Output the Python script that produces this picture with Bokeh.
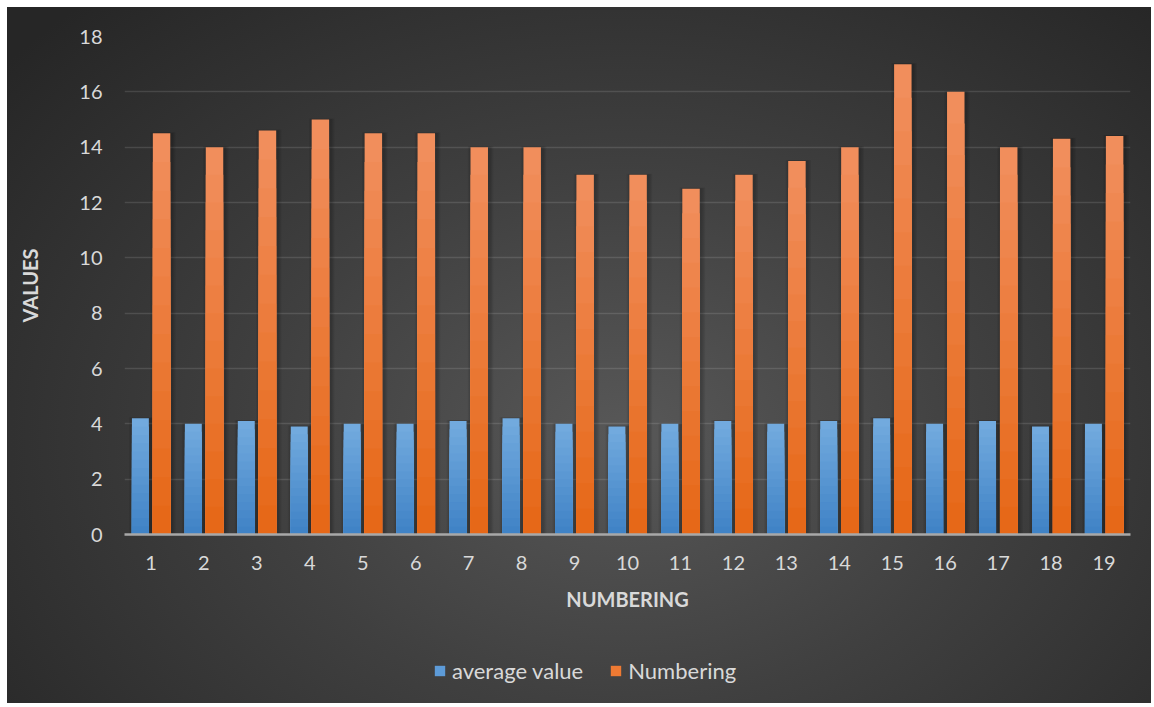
from bokeh.plotting import figure
from bokeh.layouts import column
from bokeh.models import Legend, LegendItem, FixedTicker, ColumnDataSource
from bokeh.embed import file_html
from bokeh.resources import INLINE

# Data
numbering_labels = [str(i) for i in range(1, 20)]
average_value = [4.2, 4.0, 4.1, 3.9, 4.0, 4.0, 4.1, 4.2, 4.0, 3.9,
                 4.0, 4.1, 4.0, 4.1, 4.2, 4.0, 4.1, 3.9, 4.0]
numbering_values = [14.5, 14.0, 14.6, 15.0, 14.5, 14.5, 14.0, 14.0, 13.0, 13.0,
                    12.5, 13.0, 13.5, 14.0, 17.0, 16.0, 14.0, 14.3, 14.4]
y_ticks = [0, 2, 4, 6, 8, 10, 12, 14, 16, 18]
series_names = ["average value", "Numbering"]

FONT = "Lato"
TEXT = "#d9d9d9"
BLUE_TOP, BLUE_BOT = "#72aade", "#4083c6"
ORANGE_TOP, ORANGE_BOT = "#f18e5c", "#e66818"

p = figure(width=1144, height=625, output_backend="svg", toolbar_location=None,
           x_range=(0.5, 19.5), y_range=(0, 18),
           min_border_left=117, min_border_right=21,
           min_border_top=29, min_border_bottom=98)
p.border_fill_color = None
p.background_fill_color = None
p.outline_line_color = None

xs = list(range(1, 20))


def lerp(c1, c2, t):
    a = [int(c1[i:i + 2], 16) for i in (1, 3, 5)]
    b = [int(c2[i:i + 2], 16) for i in (1, 3, 5)]
    return "#%02x%02x%02x" % tuple(round(a[k] + (b[k] - a[k]) * t) for k in range(3))


def gradient_bars(offset, values, top_col, bot_col, width, steps=14):
    """Vertical gradient bars: stacked layers, each shorter and darker."""
    for j in range(steps):
        frac = (steps - j) / steps
        src = ColumnDataSource(dict(x=[x + offset for x in xs],
                                    top=[v * frac for v in values]))
        p.vbar(x="x", top="top", width=width, source=src,
               fill_color=lerp(top_col, bot_col, j / (steps - 1)), line_color=None)


# soft shadows behind the bars
for off, vals in ((-0.2, average_value), (0.2, numbering_values)):
    for k in (0.16, 0.11, 0.06):
        p.vbar(x=[x + off + 0.025 for x in xs], top=[v + k * 0.25 for v in vals],
               width=0.32 + k, fill_color="black", fill_alpha=0.07, line_color=None)

gradient_bars(-0.2, average_value, BLUE_TOP, BLUE_BOT, 0.32)
gradient_bars(0.2, numbering_values, ORANGE_TOP, ORANGE_BOT, 0.33)

# axes
p.xaxis.ticker = FixedTicker(ticks=xs)
p.xaxis.major_label_overrides = {i: numbering_labels[i - 1] for i in xs}
p.yaxis.ticker = FixedTicker(ticks=y_ticks)
for ax in (p.xaxis, p.yaxis):
    ax.major_tick_line_color = None
    ax.minor_tick_line_color = None
    ax.major_tick_out = 0
    ax.major_tick_in = 0
    ax.major_label_text_font = FONT
    ax.major_label_text_font_size = "20px"
    ax.major_label_text_color = TEXT
    ax.axis_label_text_font = FONT
    ax.axis_label_text_font_size = "20px"
    ax.axis_label_text_font_style = "bold"
    ax.axis_label_text_color = TEXT
p.yaxis.axis_line_color = None
p.xaxis.axis_line_color = "#a8a8a8"
p.xaxis.axis_line_width = 2.5
p.xaxis.major_label_standoff = 21
p.yaxis.major_label_standoff = 22
p.xaxis.axis_label = "NUMBERING"
p.yaxis.axis_label = "VALUES"
p.xaxis.axis_label_standoff = 14
p.yaxis.axis_label_standoff = 34

p.xgrid.grid_line_color = None
p.ygrid.grid_line_color = "#ffffff"
p.ygrid.grid_line_alpha = 0.12
p.ygrid.grid_line_width = 1.5

# legend strip below the chart; its swatch renderers sit outside the visible range
leg = figure(width=1144, height=71, output_backend="svg", toolbar_location=None,
             x_range=(0, 1), y_range=(0, 1), min_border=0)
leg.axis.visible = False
leg.grid.visible = False
leg.border_fill_color = None
leg.background_fill_color = None
leg.outline_line_color = None
r_blue = leg.quad(left=[-3], right=[-2], bottom=[-3], top=[-2],
                  fill_color="#5d9bd8", line_color=None)
r_orange = leg.quad(left=[-3], right=[-2], bottom=[-3], top=[-2],
                    fill_color="#ee7a33", line_color=None)
legend = Legend(items=[LegendItem(label=series_names[0], renderers=[r_blue]),
                       LegendItem(label=series_names[1], renderers=[r_orange])],
                orientation="horizontal", location=(309, 19),
                background_fill_alpha=0, border_line_color=None,
                label_text_font=FONT, label_text_font_size="22px",
                label_text_color=TEXT, glyph_width=13, glyph_height=13,
                spacing=26, padding=0, margin=0, label_standoff=6)
leg.add_layout(legend, "center")

layout = column(p, leg, spacing=0)
layout.margin = (7, 0, 0, 7)
layout.styles = {"background": "radial-gradient(ellipse 70% 85% at 54% 62%, #585858 0%, #404040 45%, #262626 100%)"}

open("out.html", "w").write(file_html(layout, INLINE))
